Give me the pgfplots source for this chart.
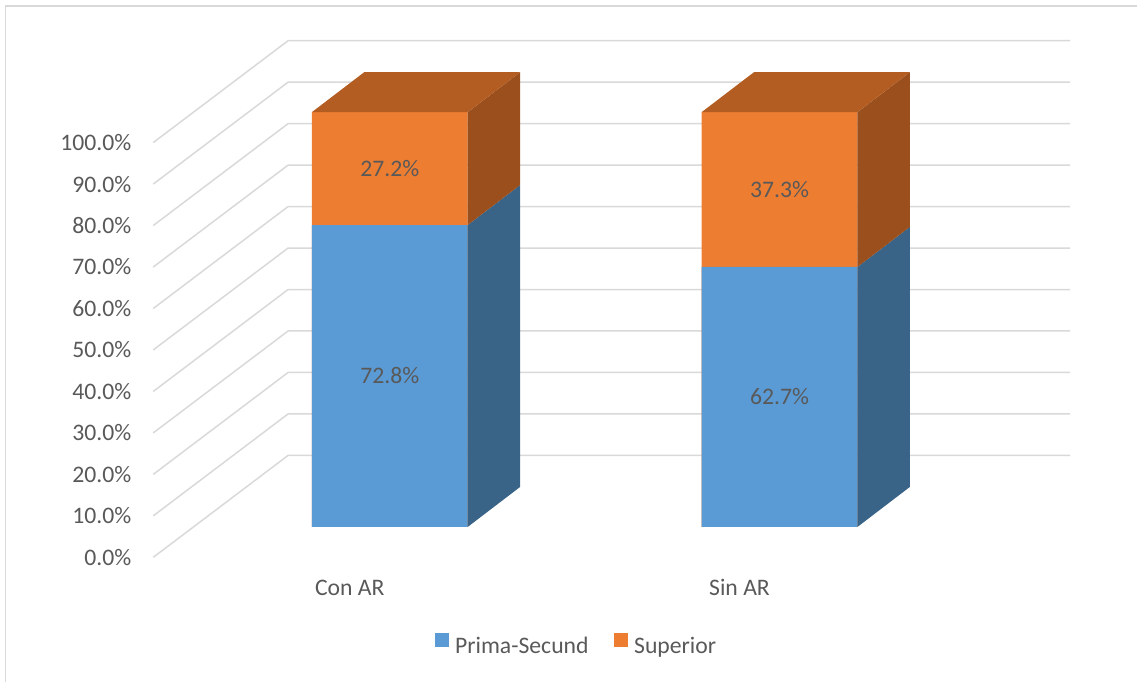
\documentclass[border=0pt]{standalone}
\usepackage{pgfplots}
\usepackage{pgfplotstable}
\pgfplotsset{compat=1.18}
\usepackage{fontspec}
\setmainfont{Carlito}

\definecolor{txt}{HTML}{595959}
\definecolor{gridc}{HTML}{D9D9D9}
\definecolor{blueF}{HTML}{5B9BD5}
\definecolor{blueS}{HTML}{3A6487}
\definecolor{orF}{HTML}{ED7D31}
\definecolor{orT}{HTML}{B35D22}
\definecolor{orS}{HTML}{9A4F1D}

% shares per group, in percent
\pgfplotstableread{
x prim sup
0 72.8 27.2
1 62.7 37.3
}\shares

\pgfplotstablegetelem{0}{prim}\of\shares \let\pA\pgfplotsretval
\pgfplotstablegetelem{0}{sup}\of\shares \let\sA\pgfplotsretval
\pgfplotstablegetelem{1}{prim}\of\shares \let\pB\pgfplotsretval
\pgfplotstablegetelem{1}{sup}\of\shares \let\sB\pgfplotsretval
\pgfmathsetmacro\tA{\pA+\sA}
\pgfmathsetmacro\tB{\pB+\sB}

% oblique depth of a bar (x in axis units, y in percentage points) and half width
\def\bdx{0.1344}
\def\bdy{9.64}
\def\bhw{0.2}

% right-hand face of a bar segment: centre, bottom, top, colour
\newcommand\rightface[4]{%
  \pgfmathsetmacro\fxa{#1+\bhw}%
  \pgfmathsetmacro\fxb{#1+\bhw+\bdx}%
  \pgfmathsetmacro\fya{#2}%
  \pgfmathsetmacro\fyb{#2+\bdy}%
  \pgfmathsetmacro\fyc{#3+\bdy}%
  \pgfmathsetmacro\fyd{#3}%
  \edef\tmp{\noexpand\addplot[fill=#4, draw=none, forget plot] coordinates {(\fxa,\fya) (\fxb,\fyb) (\fxb,\fyc) (\fxa,\fyd)};}%
  \tmp}

% top face of a bar: centre, height, colour
\newcommand\topface[3]{%
  \pgfmathsetmacro\fxa{#1-\bhw}%
  \pgfmathsetmacro\fxb{#1-\bhw+\bdx}%
  \pgfmathsetmacro\fxc{#1+\bhw+\bdx}%
  \pgfmathsetmacro\fxd{#1+\bhw}%
  \pgfmathsetmacro\fya{#2}%
  \pgfmathsetmacro\fyb{#2+\bdy}%
  \edef\tmp{\noexpand\addplot[fill=#3, draw=none, forget plot] coordinates {(\fxa,\fya) (\fxb,\fyb) (\fxc,\fyb) (\fxd,\fya)};}%
  \tmp}

\newcommand\chartfont{\fontsize{11.85}{14}\selectfont}

\begin{document}%
\begin{tikzpicture}
\begin{axis}[
  x=195pt, y=2.075pt,
  xmin=-0.6069, xmax=1.7454, ymin=-7.33, ymax=117.25,
  clip=false,
  axis line style={draw=none},
  major tick length=0pt,
  /pgf/number format/assume math mode=true,
  xtick={0,1}, xticklabels={Con AR, Sin AR},
  ytick={0,10,...,100},
  yticklabels={0.0\%,10.0\%,20.0\%,30.0\%,40.0\%,50.0\%,60.0\%,70.0\%,80.0\%,90.0\%,100.0\%},
  tick label style={font=\chartfont, text=txt},
  yticklabel style={anchor=east, inner sep=0pt, xshift=-10.8pt, yshift=-15.2pt},
  xticklabel style={anchor=base, inner sep=0pt, xshift=-20pt, yshift=-19pt},
  legend style={at={(axis cs:0.4808,-28.67)}, anchor=center, draw=none, fill=none,
    font=\chartfont, text=txt, legend columns=2, inner sep=0pt,
    nodes={inner sep=1.4pt},
    /tikz/every even column/.append style={column sep=11.5pt}},
  legend image code/.code={\fill[#1] (0pt,0pt) rectangle (7pt,7pt);
    \path (8.5pt,0pt);},
]
% back wall and floor grid
\pgfplotsinvokeforeach{0,10,...,100}{%
  \pgfmathsetmacro\gf{#1-7.33}%
  \pgfmathsetmacro\gb{#1+17.25}%
  \edef\tmp{\noexpand\addplot[gridc, line width=0.75pt, forget plot] coordinates {(-0.6069,\gf) (-0.2608,\gb) (1.7454,\gb)};}%
  \tmp}

% front faces
\addplot[ybar, bar width=0.4, bar shift=0pt, fill=orF, draw=none, forget plot]
  table[x=x, y expr=\thisrow{prim}+\thisrow{sup}] {\shares};
\addplot[ybar, bar width=0.4, bar shift=0pt, fill=blueF, draw=none, forget plot]
  table[x=x, y=prim] {\shares};

% side and top faces
\rightface{0}{0}{\pA}{blueS}
\rightface{0}{\pA}{\tA}{orS}
\topface{0}{\tA}{orT}
\rightface{1}{0}{\pB}{blueS}
\rightface{1}{\pB}{\tB}{orS}
\topface{1}{\tB}{orT}

% value labels
\addplot[draw=none, no marks, forget plot, point meta=explicit,
  nodes near coords={\pgfmathprintnumber[fixed, fixed zerofill, precision=1]{\pgfplotspointmeta}\%},
  nodes near coords style={anchor=center, font=\chartfont, text=txt}]
  table[x=x, y expr=\thisrow{prim}/2, meta=prim] {\shares};
\addplot[draw=none, no marks, forget plot, point meta=explicit,
  nodes near coords={\pgfmathprintnumber[fixed, fixed zerofill, precision=1]{\pgfplotspointmeta}\%},
  nodes near coords style={anchor=center, font=\chartfont, text=txt}]
  table[x=x, y expr=\thisrow{prim}+\thisrow{sup}/2, meta=sup] {\shares};

\addlegendimage{fill=blueF, draw=none}
\addlegendentry{Prima-Secund}
\addlegendimage{fill=orF, draw=none}
\addlegendentry{Superior}

% chart area border
\draw[gridc, line width=0.75pt] (axis cs:1.9179,125.61) -- (axis cs:-0.9859,125.61) -- (axis cs:-0.9859,-37.28);
\path (axis cs:-1,127.06) rectangle (axis cs:1.9179,-37.28);
\end{axis}
\end{tikzpicture}%
\end{document}
